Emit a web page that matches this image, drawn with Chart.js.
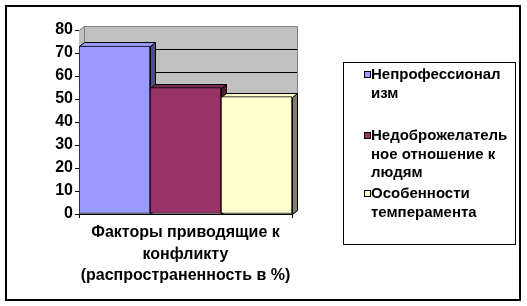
<!DOCTYPE html>
<html>
<head>
<meta charset="utf-8">
<script src="https://cdn.jsdelivr.net/npm/chart.js@4/dist/chart.umd.min.js"></script>
<style>
  html, body { margin: 0; padding: 0; background: #fff; }
  #wrap { position: relative; width: 527px; height: 306px; }
  canvas { display: block; }
</style>
</head>
<body>
<div id="wrap"><canvas id="c" width="527" height="306"></canvas></div>
<script>
// ---- data ----
const categories = [["Факторы приводящие к", "конфликту", "(распространенность в %)"]];
const seriesNames = [
  ["Непрофессионал", "изм"],
  ["Недоброжелатель", "ное отношение к", "людям"],
  ["Особенности", "темперамента"]
];
const seriesValues = [73, 55, 51];
const yMin = 0, yMax = 80, yStep = 10;

// ---- styles ----
const frontColors = ['#9999FF', '#993366', '#FFFFCC'];
const topColors   = ['#9999FF', '#7A2952', '#FFFFCC'];
const sideColors  = ['#4D4D80', '#4D1A33', '#80806A'];
const FONT = 'Liberation Sans, Arial, sans-serif';
const DX = 5, DY = 4;

const datasets = seriesNames.map((name, i) => ({
  label: name.join(' '),
  data: [seriesValues[i]],
  backgroundColor: frontColors[i],
  borderColor: '#000',
  borderWidth: 1,
  borderSkipped: false,
  categoryPercentage: 1,
  barPercentage: 1
}));

const threeD = {
  id: 'threeD',
  beforeDatasetsDraw(chart) {
    const ctx = chart.ctx;
    const a = chart.chartArea;
    const ys = chart.scales.y;
    const L = a.left, R = a.right, T = a.top, B = a.bottom;
    ctx.save();
    // walls
    ctx.fillStyle = '#C0C0C0';
    ctx.beginPath();
    ctx.moveTo(L, T); ctx.lineTo(L + DX, T - DY); ctx.lineTo(R + DX, T - DY);
    ctx.lineTo(R + DX, B - DY); ctx.lineTo(L + DX, B - DY); ctx.lineTo(L, B); ctx.closePath();
    ctx.fill();
    ctx.lineWidth = 1;
    // gridlines
    for (let v = yMin + yStep; v < yMax; v += yStep) {
      const y = Math.round(ys.getPixelForValue(v)) + 0.5;
      ctx.strokeStyle = '#000';
      ctx.beginPath();
      ctx.moveTo(L, y); ctx.lineTo(L + DX, y - DY); ctx.lineTo(R + DX, y - DY);
      ctx.stroke();
    }
    // wall outline
    ctx.strokeStyle = '#808080';
    ctx.beginPath();
    const yt = Math.round(T) + 0.5;
    ctx.moveTo(L + 0.5, yt); ctx.lineTo(L + DX + 0.5, yt - DY); ctx.lineTo(R + DX + 0.5, yt - DY);
    ctx.lineTo(R + DX + 0.5, Math.round(B) - DY + 0.5);
    ctx.moveTo(L + DX + 0.5, yt - DY); ctx.lineTo(L + DX + 0.5, Math.round(B) - DY + 0.5);
    ctx.stroke();
    // floor edge
    ctx.strokeStyle = '#000';
    ctx.beginPath();
    ctx.moveTo(R, B + 0.5); ctx.lineTo(R + DX, B - DY + 0.5);
    ctx.stroke();
    // bar sides and tops
    chart.data.datasets.forEach((ds, i) => {
      const meta = chart.getDatasetMeta(i);
      meta.data.forEach(el => {
        const p = el.getProps(['x', 'y', 'base', 'width'], true);
        const l = Math.round(p.x - p.width / 2) + 0.5;
        const r = Math.round(p.x + p.width / 2) + 0.5;
        const t = Math.round(p.y) + 0.5;
        const b = Math.round(p.base) + 0.5;
        ctx.strokeStyle = '#000';
        ctx.fillStyle = sideColors[i];
        ctx.beginPath();
        ctx.moveTo(r, t); ctx.lineTo(r + DX, t - DY); ctx.lineTo(r + DX, b - DY); ctx.lineTo(r, b); ctx.closePath();
        ctx.fill(); ctx.stroke();
        ctx.fillStyle = topColors[i];
        ctx.beginPath();
        ctx.moveTo(l, t); ctx.lineTo(l + DX, t - DY); ctx.lineTo(r + DX, t - DY); ctx.lineTo(r, t); ctx.closePath();
        ctx.fill(); ctx.stroke();
      });
    });
    ctx.restore();
  }
};

const legendBox = {
  id: 'legendBox',
  afterDraw(chart) {
    const ctx = chart.ctx;
    ctx.save();
    // outer frame
    ctx.strokeStyle = '#000';
    ctx.lineWidth = 2;
    ctx.strokeRect(6, 6, 514, 294);
    // legend frame
    ctx.lineWidth = 1;
    ctx.strokeRect(343.5, 62.5, 172, 182);
    const itemTops = [75, 136, 194];
    const lineH = 18.5;
    ctx.font = 'bold 15px ' + FONT;
    ctx.textBaseline = 'middle';
    ctx.textAlign = 'left';
    seriesNames.forEach((lines, i) => {
      const y0 = itemTops[i];
      ctx.fillStyle = frontColors[i];
      ctx.fillRect(364, y0 - 4, 6, 6);
      ctx.strokeStyle = '#000';
      ctx.strokeRect(364.5, y0 - 3.5, 6, 6);
      ctx.fillStyle = '#000';
      lines.forEach((ln, k) => ctx.fillText(ln, 371, y0 + k * lineH));
    });
    ctx.restore();
  }
};

new Chart(document.getElementById('c'), {
  type: 'bar',
  data: { labels: categories, datasets },
  options: {
    responsive: false,
    animation: false,
    events: [],
    layout: { padding: { left: 0, top: 30, right: 235, bottom: 0 } },
    plugins: { legend: { display: false }, tooltip: { enabled: false } },
    scales: {
      x: {
        afterFit(s) { s.height = 92; },
        grid: { offset: true, drawOnChartArea: false, drawTicks: true, tickLength: 4, color: '#000' },
        border: { color: '#000', width: 1 },
        ticks: { color: '#000', padding: 4, maxRotation: 0, autoSkip: false,
          font: { family: FONT, size: 16, weight: 'bold', lineHeight: 1.34 } }
      },
      y: {
        min: yMin, max: yMax,
        afterFit(s) { s.width = 79; },
        grid: { drawOnChartArea: false, drawTicks: true, tickLength: 4, color: '#000' },
        border: { color: '#000', width: 1 },
        ticks: { stepSize: yStep, color: '#000', padding: 2,
          font: { family: FONT, size: 16, weight: 'bold' } }
      }
    }
  },
  plugins: [threeD, legendBox]
});
</script>
</body>
</html>
